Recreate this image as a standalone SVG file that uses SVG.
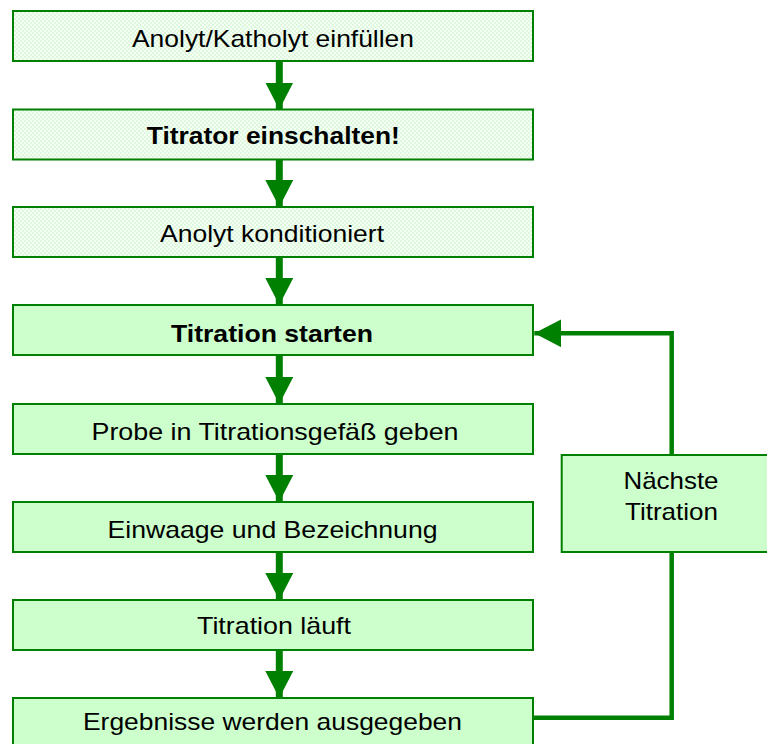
<svg xmlns="http://www.w3.org/2000/svg" width="767" height="744" viewBox="0 0 767 744">
<defs>
<pattern id="dots" width="4" height="4" patternUnits="userSpaceOnUse">
<rect width="4" height="4" fill="#F6FFF6"/>
<circle cx="1" cy="1" r="0.9" fill="#D2F6D2"/>
<circle cx="3" cy="3" r="0.9" fill="#D2F6D2"/>
</pattern>
<marker id="ah" markerUnits="userSpaceOnUse" markerWidth="28" markerHeight="28" refX="27" refY="14" orient="auto" viewBox="0 0 28 28">
<path d="M0,0 L27,14 L0,28 Z" fill="#008000"/>
</marker>
<style>
.box{fill:#CCFFCC;stroke:#008000;stroke-width:2}
.pbox{fill:url(#dots);stroke:#008000;stroke-width:2}
.t{font-family:"Liberation Sans",Arial,sans-serif;font-size:24px;fill:#000;text-anchor:middle}
.b{font-weight:bold}
.down{stroke:#008000;stroke-width:7;fill:none;marker-end:url(#ah)}
.loop{stroke:#008000;stroke-width:4.5;fill:none;stroke-linejoin:miter;marker-end:url(#ah)}
</style>
</defs>
<g id="connectors">
<line class="down" x1="279.3" y1="61" x2="279.3" y2="109.5"/>
<line class="down" x1="279.3" y1="159.5" x2="279.3" y2="207"/>
<line class="down" x1="279.3" y1="257" x2="279.3" y2="305"/>
<line class="down" x1="279.3" y1="355" x2="279.3" y2="404"/>
<line class="down" x1="279.3" y1="454" x2="279.3" y2="502"/>
<line class="down" x1="279.3" y1="552" x2="279.3" y2="600"/>
<line class="down" x1="279.3" y1="650" x2="279.3" y2="698"/>
<path class="loop" d="M533,717.7 H671.7 V333.3 H534.3"/>
</g>
<g id="n1"><rect class="pbox" x="13" y="11" width="520" height="50"/><text class="t" x="273" y="46.5" textLength="282" lengthAdjust="spacingAndGlyphs">Anolyt/Katholyt einfüllen</text></g>
<g id="n2"><rect class="pbox" x="13" y="109.5" width="520" height="50"/><text class="t b" x="273.3" y="144" textLength="253" lengthAdjust="spacingAndGlyphs">Titrator einschalten!</text></g>
<g id="n3"><rect class="pbox" x="13" y="207" width="520" height="50"/><text class="t" x="272" y="241.5" textLength="224" lengthAdjust="spacingAndGlyphs">Anolyt konditioniert</text></g>
<g id="n4"><rect class="box" x="13" y="305" width="520" height="50"/><text class="t b" x="272" y="341.5" textLength="202" lengthAdjust="spacingAndGlyphs">Titration starten</text></g>
<g id="n5"><rect class="box" x="13" y="404" width="520" height="50"/><text class="t" x="275" y="440" textLength="367" lengthAdjust="spacingAndGlyphs">Probe in Titrationsgefäß geben</text></g>
<g id="n6"><rect class="box" x="13" y="502" width="520" height="50"/><text class="t" x="272.5" y="538" textLength="330" lengthAdjust="spacingAndGlyphs">Einwaage und Bezeichnung</text></g>
<g id="n7"><rect class="box" x="13" y="600" width="520" height="50"/><text class="t" x="274" y="634" textLength="154" lengthAdjust="spacingAndGlyphs">Titration läuft</text></g>
<g id="n8"><rect class="box" x="13" y="698" width="520" height="50"/><text class="t" x="272.5" y="730" textLength="379" lengthAdjust="spacingAndGlyphs">Ergebnisse werden ausgegeben</text></g>
<g id="n9"><rect class="box" x="561.7" y="455" width="220" height="97"/><text class="t" x="671" y="489.3" textLength="95" lengthAdjust="spacingAndGlyphs">Nächste</text><text class="t" x="671.5" y="520" textLength="93" lengthAdjust="spacingAndGlyphs">Titration</text></g>
</svg>
